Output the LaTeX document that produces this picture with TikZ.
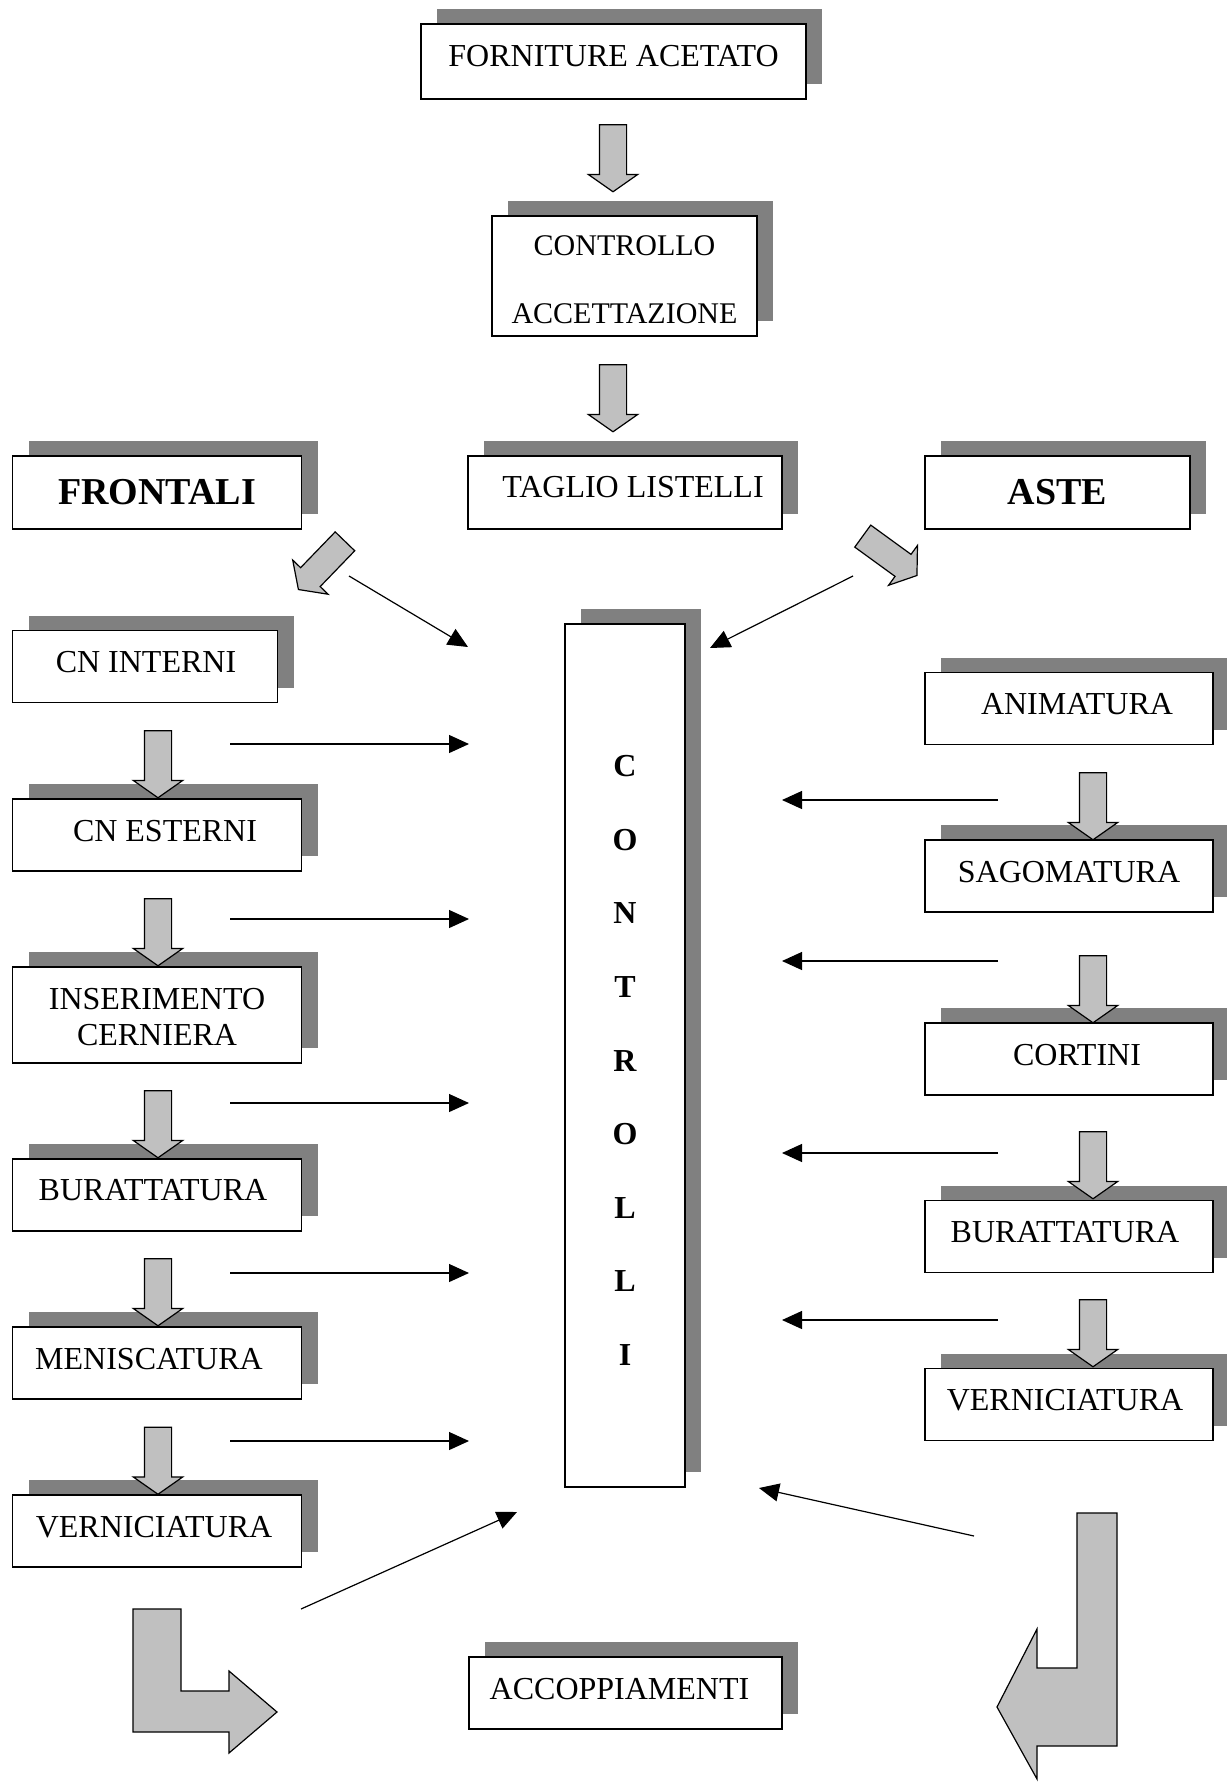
\documentclass[tikz,border=0pt]{standalone}
\usepackage{fontspec}
\setmainfont{Liberation Serif}
\usetikzlibrary{shapes.arrows,shadows,arrows.meta}
\definecolor{shade}{HTML}{808080}
\definecolor{silver}{HTML}{C0C0C0}
% text moved sideways inside its box by half of #1
\newcommand\moved[2]{\makebox[0pt]{\hspace*{#1}#2}}

\begin{document}
\begin{tikzpicture}[x=0.5pt,y=-0.5pt,
  box/.style={draw,line width=0.7pt,fill=white,inner sep=0pt,align=center,
    font=\fontsize{16}{18}\selectfont,
    general shadow={fill=shade,draw=none,shadow xshift=8pt,shadow yshift=7.5pt}},
  one/.style={text depth=4.6pt},
  size/.style 2 args={minimum width=#1*0.5pt,minimum height=#2*0.5pt},
  big/.style={font=\fontsize{19}{22}\selectfont\bfseries},
  down/.style={single arrow,draw,fill=silver,line width=0.6pt,inner xsep=0pt,inner ysep=6.5pt,
    minimum height=33.5pt,single arrow head extend=5.5pt,single arrow tip angle=110},
  thin/.style={line width=0.6pt,-{Triangle[length=10pt,width=9pt]}}]
\useasboundingbox (0,0) rectangle (1226,1782);

% top of the chain
\node[box,one,size={385}{75},text depth=6pt] (forn) at (613.5,61.5) {FORNITURE ACETATO};
\node[box,size={265}{120},font=\fontsize{15}{34}\selectfont,text height=47.3pt] (acc) at (624.5,276) {CONTROLLO\\ACCETTAZIONE};
\node[box,one,size={314}{73},text depth=6pt] (tag) at (625,492.5) {\moved{8pt}{TAGLIO LISTELLI}};
\node[box,big,size={289}{73}] (fro) at (157,492.5) {FRONTALI};
\node[box,big,size={265}{73}] (ast) at (1057.5,492.5) {ASTE};

% frontali
\foreach \n/\x/\y/\w/\o/\t in {fin/145/666.5/265/1/CN INTERNI,fes/157/835/289/8/CN ESTERNI,
  fbur/157/1195/289/-4/BURATTATURA,fmen/157/1363/289/-8/MENISCATURA,fver/157/1531/289/-3/VERNICIATURA}
	\node[box,one,size={\w}{72}] (\n) at (\x,\y) {\moved{\o pt}{\t}};
\node[box,size={289}{96},text height=30.8pt] (fcer) at (157,1015) {INSERIMENTO\\CERNIERA};

% aste
\foreach \n/\y/\o/\t in {ani/708.5/8/ANIMATURA,sag/876/0/SAGOMATURA,cor/1059/8/CORTINI,
  abur/1236.5/-4/BURATTATURA,aver/1404.5/-4/VERNICIATURA}
	\node[box,one,size={288}{72}] (\n) at (1069,\y) {\moved{\o pt}{\t}};

\node[box,size={120}{863},font=\fontsize{16}{36.8}\selectfont\bfseries,text height=310pt] (ctl) at (625,1055.5)
	{C\\O\\N\\T\\R\\O\\L\\L\\I};
\node[box,one,size={313}{72}] (acp) at (625.5,1693) {\moved{-6pt}{ACCOPPIAMENTI}};

% block arrows
\foreach \x/\y [count=\i] in {613/153.5,613/393.5,158/759.5,158/927.5,158/1119.5,158/1287.5,158/1456,
  1093/801.5,1093/984.5,1093/1160.5,1093/1328.5}
	\node[down,rotate=-90] (d\i) at (\x,\y) {};
\node[down,rotate=-134] (dl) at (325,562) {};
\node[down,rotate=-36] (dr) at (886,553) {};

\filldraw[fill=silver,line width=0.6pt] (133,1609) -- (181,1609) -- (181,1691) -- (229,1691) -- (229,1671)
	-- (277,1712) -- (229,1753) -- (229,1732) -- (133,1732) -- cycle;
\filldraw[fill=silver,line width=0.6pt] (1117,1513) -- (1077,1513) -- (1077,1668) -- (1037,1668) -- (1037,1629)
	-- (997,1707) -- (1037,1779) -- (1037,1746) -- (1117,1746) -- cycle;

% thin arrows to the controls
\foreach \y [count=\i] in {744,919,1103,1273,1441}{
	\coordinate (ls\i) at (230,\y);
	\coordinate (le\i) at (469,\y);
	\draw[thin] (ls\i) -- (le\i);
}
\foreach \y [count=\i] in {800,961,1153,1320}{
	\coordinate (rs\i) at (998,\y);
	\coordinate (re\i) at (782,\y);
	\draw[thin] (rs\i) -- (re\i);
}
\coordinate (a1) at (349,576); \coordinate (b1) at (468,647);
\coordinate (a2) at (853,576); \coordinate (b2) at (710,648);
\coordinate (a3) at (301,1609); \coordinate (b3) at (517,1512);
\coordinate (a4) at (974,1536); \coordinate (b4) at (759,1488);
\foreach \i in {1,...,4}
	\draw[thin] (a\i) -- (b\i);
\end{tikzpicture}
\end{document}
